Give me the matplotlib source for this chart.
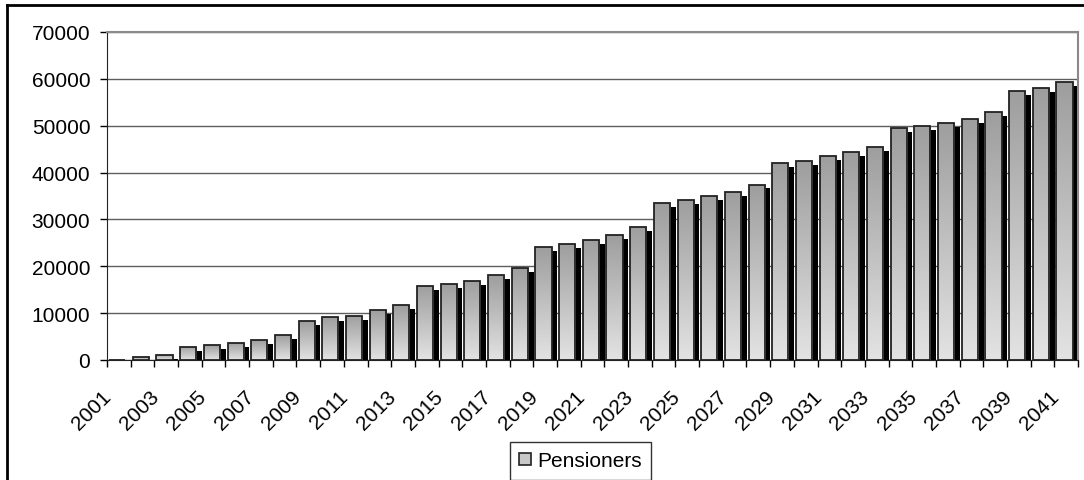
import numpy as np
import matplotlib.pyplot as plt
import matplotlib.transforms as mtransforms
from matplotlib.lines import Line2D
from matplotlib.patches import Rectangle

plt.rcParams['font.family'] = ['Liberation Sans', 'DejaVu Sans']

years = list(range(2001, 2042))
pensioners = [0, 600, 1100, 2850, 3200, 3700, 4200, 5300, 8300, 9100,
              9450, 10600, 11700, 15850, 16200, 16900, 18050, 19550, 24100, 24850,
              25600, 26650, 28450, 33400, 34100, 34900, 35950, 37450, 42000, 42400,
              43550, 44300, 45400, 49450, 49900, 50650, 51450, 52900, 57350, 58150,
              59250]

fig = plt.figure(figsize=(10.84, 4.81), dpi=100)
ax = fig.add_axes([0.0987, 0.2495, 0.8958, 0.6819])

x = np.arange(len(years))
w = 0.68
xb = x - 0.07
shadow_dx = 0.24
shadow_dy = 850

# shadow first, then the gray bars on top
ax.bar(xb + shadow_dx, np.maximum(np.array(pensioners) - shadow_dy, 0), width=w,
       color='black', zorder=2)
bars = ax.bar(xb, pensioners, width=w, color='none', edgecolor='#222222',
              linewidth=1.3, zorder=4)

# vertical gradient: darker gray at top, light gray at bottom
t = np.linspace(0, 1, 100).reshape(-1, 1)
g = 0.62 + (0.89 - 0.62) * t
grad = np.dstack([g, g, g])
for b in bars:
    if b.get_height() <= 0:
        continue
    im = ax.imshow(grad, aspect='auto',
                   extent=[b.get_x(), b.get_x() + b.get_width(), 0, b.get_height()],
                   origin='upper', zorder=3)
    im.set_clip_path(b)

ax.set_xlim(-0.5, len(years) - 0.5)
ax.set_ylim(0, 70000)
ax.set_yticks(range(0, 70001, 10000))
ax.yaxis.grid(True, color='#5e5e5e', linewidth=1.0, zorder=0)
ax.set_axisbelow(True)

ax.set_xticks(x[::2])
ax.set_xticklabels([str(y) for y in years[::2]], rotation=45, ha='right', va='top',
                   rotation_mode='anchor')
ax.set_xticks(np.arange(-0.5, len(years), 1), minor=True)
ax.tick_params(axis='x', which='major', length=0, pad=19, labelsize=15)
ax.tick_params(axis='x', which='minor', length=5, width=1, color='black')
ax.tick_params(axis='y', length=5, width=1, pad=7, labelsize=15)

shift = mtransforms.ScaledTranslation(-17 / 100, 0, fig.dpi_scale_trans)
for lab in ax.get_xticklabels():
    lab.set_transform(lab.get_transform() + shift)

for s in ['top', 'right']:
    ax.spines[s].set_color('#8a8a8a')
    ax.spines[s].set_linewidth(1.5)
ax.spines['left'].set_color('#222222')
ax.spines['bottom'].set_color('#222222')

# legend
h = Rectangle((0, 0), 1, 1, facecolor='#c8c8c8', edgecolor='#222222', linewidth=1.2)
leg = fig.legend([h], ['Pensioners'], loc='upper left', bbox_to_anchor=(0.4705, 0.079),
                 fontsize=15, frameon=True, fancybox=False, edgecolor='black',
                 handlelength=0.55, handleheight=0.55, handletextpad=0.3,
                 borderpad=0.45, borderaxespad=0)
leg.get_frame().set_linewidth(1.0)

# outer chart frame (left and top visible)
fig.add_artist(Line2D([0.006, 0.006], [0, 0.988], transform=fig.transFigure,
                      color='black', linewidth=2))
fig.add_artist(Line2D([0.006, 1.0], [0.988, 0.988], transform=fig.transFigure,
                      color='black', linewidth=2))

fig.savefig('out.png', dpi=100)
